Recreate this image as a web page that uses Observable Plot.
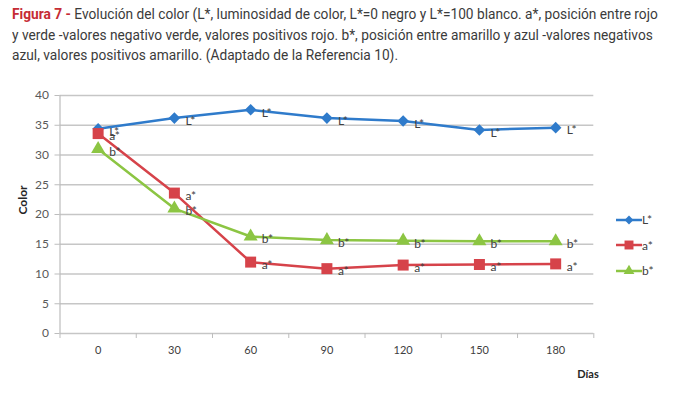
<!DOCTYPE html>
<html>
<head>
<meta charset="utf-8">
<script src="https://cdn.jsdelivr.net/npm/d3@7"></script>
<script src="https://cdn.jsdelivr.net/npm/@observablehq/plot@0.6"></script>
<style>
  html, body { margin: 0; padding: 0; background: #fff; }
  #wrap { position: relative; width: 673px; height: 398px; overflow: hidden; }
  #title { position: absolute; left: 12px; top: 4px; width: 740px;
    font-family: "Roboto", sans-serif; font-size: 15.5px; line-height: 20.5px; color: #3b3b3b; white-space: nowrap;
    transform: scaleX(0.885); transform-origin: 0 0; }
  #title b { color: #c62c35; font-weight: bold; }
  #chart { position: absolute; left: 0; top: 70px; }
  #legend { position: absolute; left: 614px; top: 207px; font-family: Lato, sans-serif; font-size: 12px; color: #404040; }
  .row { display: flex; align-items: center; height: 25.5px; }
</style>
</head>
<body>
<div id="wrap">
  <div id="title"></div>
  <div id="chart"></div>
  <div id="legend"></div>
</div>
<script>
// ---- data ----
const days = [0, 30, 60, 90, 120, 150, 180];
const seriesNames = ["L*", "a*", "b*"];
const valuesL = [34.4, 36.2, 37.6, 36.2, 35.7, 34.2, 34.6];
const valuesA = [33.6, 23.6, 12.0, 10.9, 11.5, 11.6, 11.7];
const valuesB = [31.0, 21.0, 16.3, 15.7, 15.6, 15.5, 15.5];
const seriesColors = ["#2f7bcb", "#d6434a", "#8cc543"];
const seriesSymbols = ["diamond2", "square", "triangle"];
const yTicks = [0, 5, 10, 15, 20, 25, 30, 35, 40];
const titleLines = [
  "Evolución del color (L*, luminosidad de color, L*=0 negro y L*=100 blanco. a*, posición entre rojo",
  "y verde -valores negativo verde, valores positivos rojo. b*, posición entre amarillo y azul -valores negativos",
  "azul, valores positivos amarillo. (Adaptado de la Referencia 10)."
];
const titlePrefix = "Figura 7 -";
const yLabel = "Color";
const xLabel = "Días";

// ---- build table ----
const allValues = [valuesL, valuesA, valuesB];
const data = [];
seriesNames.forEach((s, i) => days.forEach((d, j) => data.push({series: s, day: d, value: allValues[i][j]})));
const step = days[1] - days[0];
const bounds = days.map(d => d - step / 2).concat([days[days.length - 1] + step / 2]);

// ---- title ----
document.getElementById("title").innerHTML =
  "<b>" + titlePrefix + "</b> " + titleLines[0] + "<br>" + titleLines[1] + "<br>" + titleLines[2];

// ---- chart ----
const font = "Lato, 'Open Sans', sans-serif";
const chart = Plot.plot({
  width: 673,
  height: 328,
  marginTop: 25,
  marginBottom: 65,
  marginLeft: 59.5,
  marginRight: 79.7,
  style: {fontFamily: font, fontSize: "11px", color: "#595959", background: "transparent"},
  x: {type: "linear", domain: [bounds[0], bounds[bounds.length - 1]], axis: null},
  y: {domain: [0, 40], axis: null},
  color: {domain: seriesNames, range: seriesColors},
  marks: [
    Plot.ruleY(yTicks, {stroke: "#c6c6c6", strokeWidth: 1.4}),
    Plot.ruleX([bounds[0]], {y1: 0, y2: 40, stroke: "#bdbdbd", strokeWidth: 1.2}),
    Plot.axisY({ticks: yTicks, tickSize: 5, tickPadding: 6, stroke: "#bdbdbd", fill: "#595959", label: null, fontSize: 12}),
    Plot.axisX({ticks: bounds, tickSize: 5, tickFormat: () => "", stroke: "#bdbdbd", label: null}),
    Plot.axisX({ticks: days, tickSize: 0, tickPadding: 13, fill: "#404040", label: null, fontSize: 11}),
    Plot.line(data, {x: "day", y: "value", z: "series", stroke: "series", strokeWidth: 2.5}),
    ...seriesNames.map((s, i) =>
      Plot.dot(data.filter(d => d.series === s), {x: "day", y: "value", symbol: () => seriesSymbols[i], fill: seriesColors[i], stroke: "none", r: i === 1 ? 6.2 : 5.2})),
    Plot.text(data, {x: "day", y: "value", text: "series", dx: 11, dy: 3, textAnchor: "start", fill: "#404040", fontSize: 12}),
    Plot.text([yLabel], {frameAnchor: "left", text: d => d, rotate: -90, dx: -37, fontWeight: "bold", fill: "#262626", fontSize: 12}),
    Plot.text([xLabel], {frameAnchor: "bottom-right", text: d => d, dx: 5, dy: 44, fontWeight: "bold", fill: "#262626", fontSize: 11})
  ]
});
document.getElementById("chart").appendChild(chart);

// ---- legend ----
const legend = d3.select("#legend");
seriesNames.forEach((s, i) => {
  const row = legend.append("div").attr("class", "row");
  const svg = row.append("svg").attr("width", 28).attr("height", 14);
  svg.append("line").attr("x1", 2).attr("x2", 28).attr("y1", 7).attr("y2", 7).attr("stroke", seriesColors[i]).attr("stroke-width", 2.5);
  const sym = {diamond2: d3.symbolDiamond2, square: d3.symbolSquare, triangle: d3.symbolTriangle}[seriesSymbols[i]];
  svg.append("path").attr("transform", "translate(15,7)").attr("d", d3.symbol(sym, i === 1 ? 80 : 50)()).attr("fill", seriesColors[i]);
  row.append("span").text(s);
});
</script>
</body>
</html>
